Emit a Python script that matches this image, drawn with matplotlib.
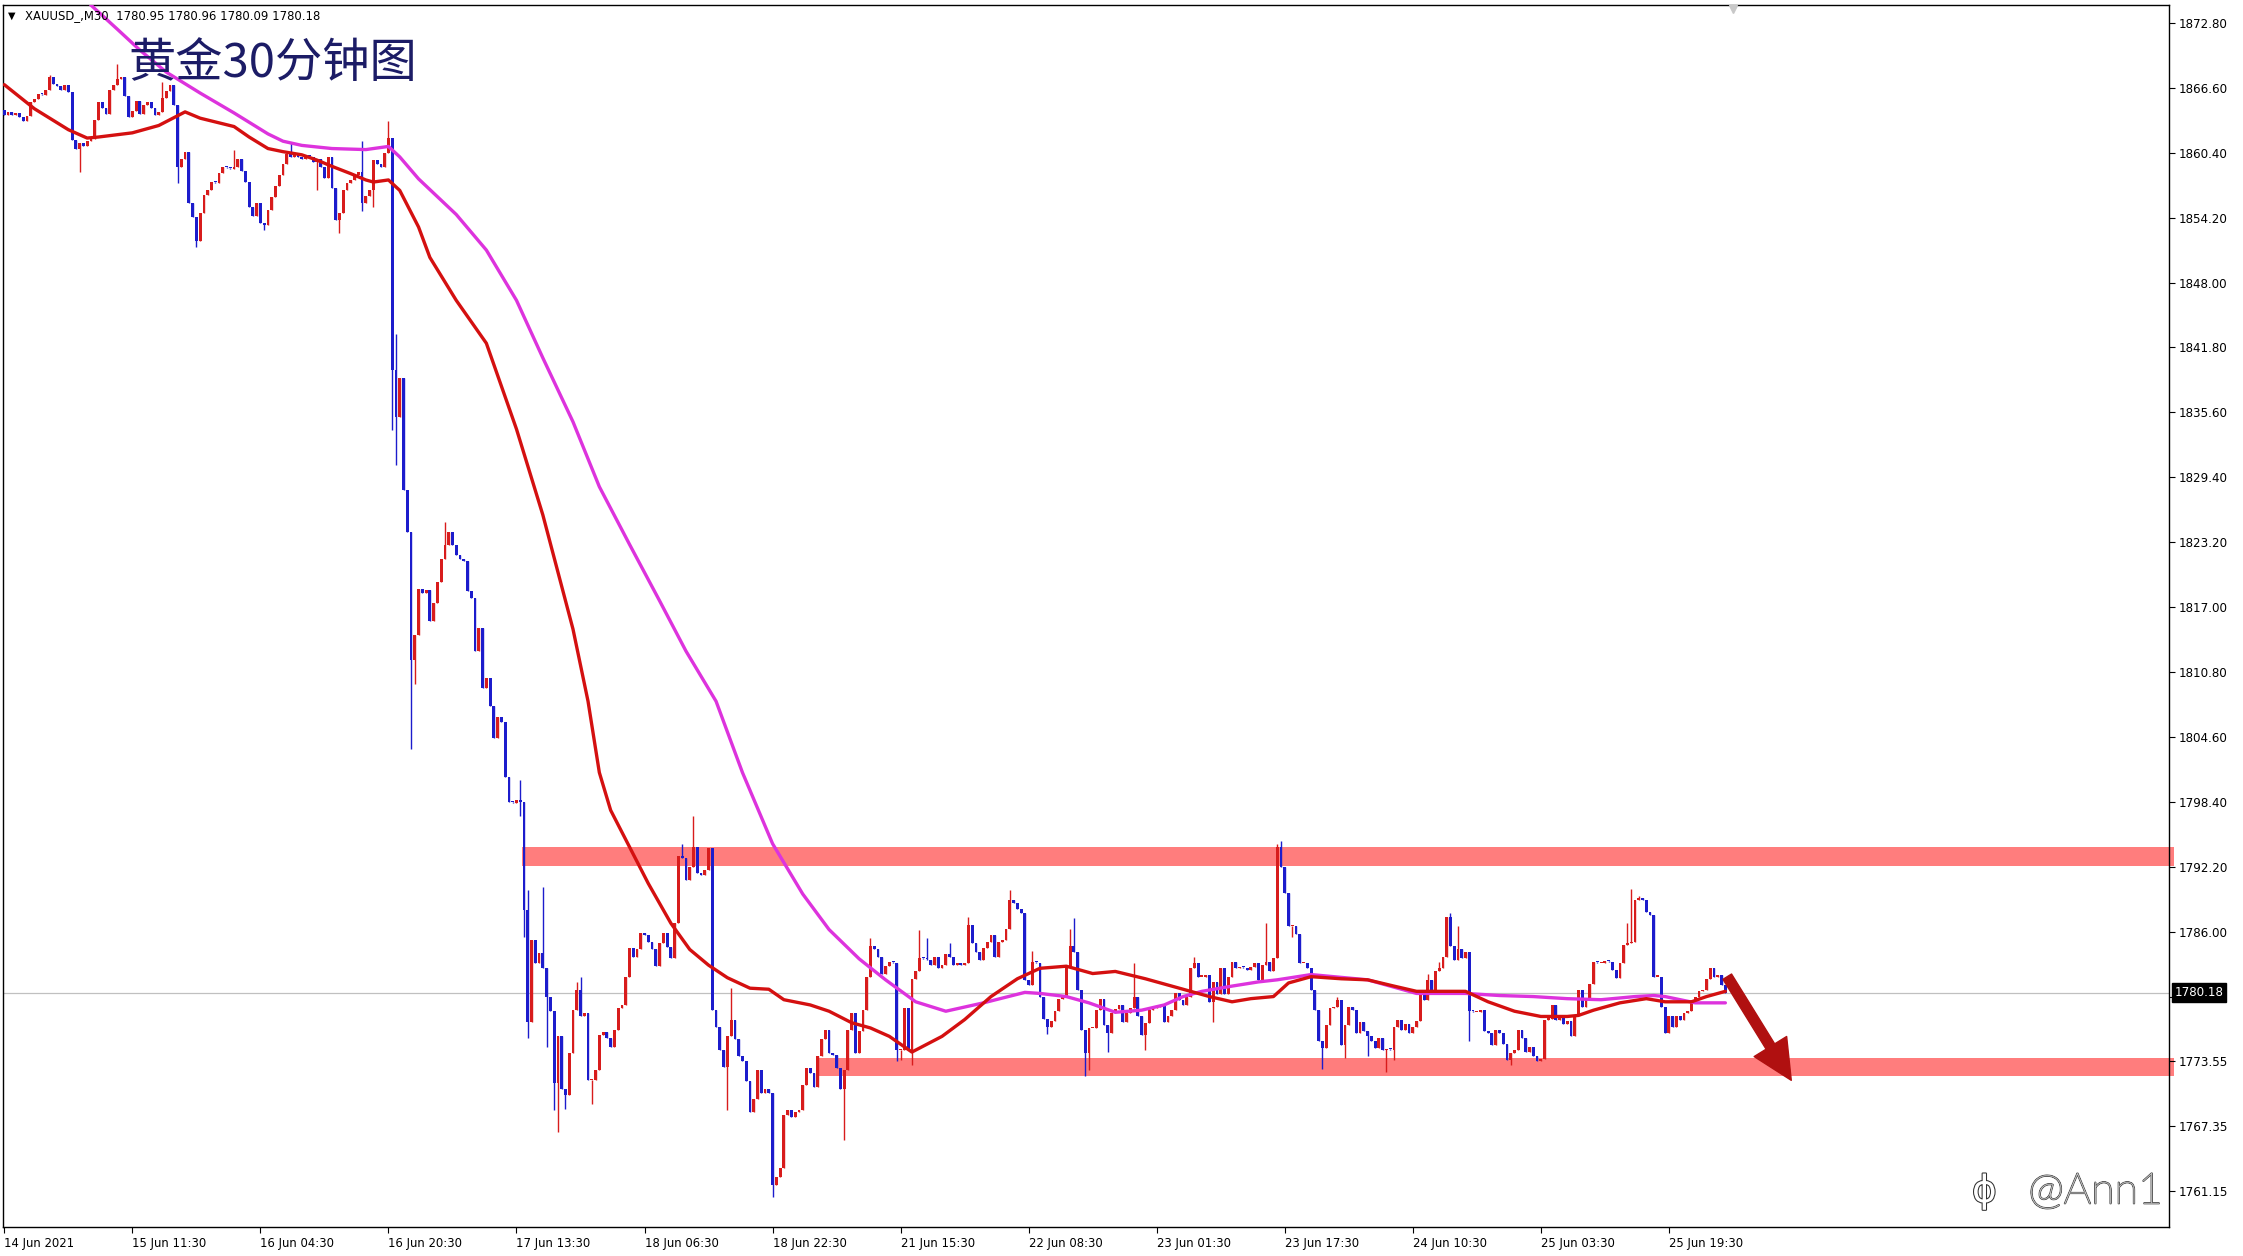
import numpy as np
import matplotlib
matplotlib.use("Agg")
import matplotlib.pyplot as plt
from matplotlib.patches import FancyArrowPatch, Rectangle
import matplotlib.patheffects as pe

# ---------------- data ----------------
close_14_15 = [
    1864.0, 1864.3, 1864.0, 1864.2, 1863.8, 1863.4, 1863.9, 1865.2, 1865.5, 1866.0,
    1865.9, 1866.4, 1867.6, 1867.0, 1866.8, 1866.4, 1866.9, 1866.2, 1861.6, 1860.8,
    1861.3, 1861.0, 1861.5, 1861.7, 1863.5, 1865.2, 1864.7, 1864.1, 1866.4, 1866.9,
    1867.4, 1867.6, 1865.8, 1863.8, 1864.4, 1865.3, 1864.1, 1865.0, 1865.2, 1864.7,
    1864.0, 1864.3, 1865.6, 1866.3, 1866.9, 1865.0, 1859.0, 1859.8, 1860.5, 1855.6,
    1854.3, 1852.0, 1854.6, 1856.4, 1856.8, 1857.6, 1857.5, 1858.5, 1859.0, 1858.9,
    1858.8, 1859.0, 1859.8, 1858.7, 1857.6, 1855.2, 1854.4, 1855.6, 1853.7, 1853.5,
    1854.9, 1856.2, 1857.2, 1858.3, 1859.3, 1860.3, 1860.0, 1860.3, 1860.0, 1859.8,
    1860.1, 1860.0, 1859.5, 1859.8, 1859.0, 1858.0, 1860.0, 1857.0, 1854.0, 1854.6,
    1856.8, 1857.5, 1857.8, 1858.3, 1858.6, 1855.6, 1856.3, 1856.8, 1859.7, 1859.3,
    1859.0, 1860.4, 1861.8,
]
close_16_17 = [
    1839.6, 1835.2, 1838.9, 1828.2, 1824.2, 1811.9, 1814.3, 1818.7, 1818.3, 1818.6,
    1815.7, 1817.4, 1819.4, 1821.6, 1822.9, 1824.2, 1822.9, 1822.0, 1821.6, 1821.4,
    1818.5, 1817.9, 1812.8, 1815.0, 1809.3, 1810.2, 1807.6, 1804.5, 1806.5, 1806.0,
    1800.8, 1798.4, 1798.3, 1798.6, 1798.4,
]
close_17_21 = [
    1788.1, 1777.4, 1785.2, 1783.0, 1784.0, 1782.5, 1779.8, 1778.4, 1771.5, 1776.0,
    1771.0, 1770.4, 1774.4, 1778.5, 1780.4, 1777.9, 1778.2, 1771.8, 1771.8, 1772.8,
    1776.1, 1776.4, 1775.8, 1775.0, 1776.6, 1778.7, 1779.0, 1781.7, 1784.4, 1783.6,
    1784.3, 1785.9, 1785.7, 1785.0, 1784.3, 1782.7, 1784.9, 1785.9, 1784.5, 1783.5,
    1786.8, 1793.2, 1793.0, 1790.9, 1792.2, 1794.1, 1791.6, 1791.4, 1791.9, 1794.0,
    1778.5, 1776.9, 1774.7, 1773.1, 1776.0, 1777.6, 1775.7, 1774.1, 1773.6, 1771.7,
    1768.8, 1770.0, 1772.8, 1770.6, 1771.0, 1770.6, 1761.8, 1762.6, 1763.4, 1768.5,
    1769.0, 1768.3, 1768.8, 1769.0, 1771.4, 1773.0, 1772.5, 1771.2, 1774.1, 1775.7,
    1776.6, 1774.4, 1774.2, 1773.0, 1771.0, 1772.8, 1776.6, 1778.2, 1774.4, 1776.5,
    1778.5, 1781.7, 1784.6, 1784.3, 1783.6, 1782.0, 1782.7, 1783.1,
]
close_21_23 = [
    1783.0, 1774.7, 1774.7, 1778.7, 1774.7, 1781.5, 1782.2, 1783.5, 1783.4, 1783.3,
    1782.8, 1783.6, 1782.5, 1782.8, 1783.9, 1783.6, 1782.8, 1783.0, 1782.8, 1783.0,
    1786.6, 1784.9, 1784.1, 1783.3, 1784.4, 1785.0, 1785.7, 1783.6, 1785.0, 1785.2,
    1786.3, 1789.0, 1788.7, 1788.2, 1787.8, 1781.4, 1780.9, 1783.1, 1783.0, 1779.8,
    1777.7, 1776.9, 1777.5, 1778.4, 1779.6, 1779.8, 1782.7, 1784.6, 1784.1, 1780.4,
    1776.6, 1774.4, 1776.8, 1776.8, 1778.5, 1779.6, 1777.1, 1776.3, 1778.2, 1778.6,
    1779.0, 1777.4, 1778.2, 1778.7, 1779.8, 1777.9, 1776.1, 1777.3, 1778.5, 1778.7,
    1778.8, 1779.0, 1777.4, 1777.9, 1778.5, 1780.1, 1779.5, 1779.0, 1779.8, 1782.5,
    1783.0, 1781.7, 1781.7, 1781.9, 1779.3, 1781.2, 1780.0, 1782.5, 1780.0, 1781.7,
    1783.1, 1782.5, 1782.6, 1782.5, 1782.3, 1782.6, 1783.0, 1781.4, 1782.8, 1783.1,
    1782.2, 1783.5, 1794.1, 1792.2, 1789.7, 1786.5, 1786.5, 1785.8, 1783.0, 1783.0,
]
close_23_25 = [
    1782.5, 1780.4, 1778.5, 1775.6, 1774.9, 1777.1, 1778.7, 1778.8, 1779.5, 1775.2,
    1777.1, 1778.8, 1778.5, 1776.3, 1777.4, 1776.5, 1776.0, 1775.6, 1774.9, 1775.8,
    1774.7, 1774.8, 1774.7, 1776.9, 1777.6, 1776.6, 1777.2, 1776.3, 1776.9, 1777.5,
    1780.4, 1779.5, 1781.4, 1780.4, 1782.2, 1782.5, 1783.6, 1787.4, 1784.6, 1783.3,
    1784.3, 1783.5, 1784.1, 1778.4, 1778.3, 1778.3, 1778.5, 1776.5, 1776.3, 1775.2,
    1776.6, 1776.3, 1775.3, 1773.7, 1774.4, 1774.7, 1776.6, 1775.8, 1774.5, 1775.0,
    1774.1, 1773.6, 1773.8, 1777.6, 1777.7, 1779.0, 1777.6, 1777.9, 1777.2, 1777.5,
    1776.0, 1777.9, 1780.4, 1778.8, 1779.5, 1781.0, 1783.1, 1783.0, 1783.0, 1783.2,
    1783.1, 1782.3, 1781.6, 1783.0, 1784.7, 1784.9, 1785.0, 1789.0, 1789.2, 1789.0,
    1787.9, 1787.6, 1781.7, 1781.7, 1778.8, 1776.3, 1777.9, 1776.9, 1777.9, 1777.6,
    1778.2, 1778.4, 1779.5, 1779.8, 1780.3, 1780.4, 1781.5, 1782.5, 1781.7, 1781.9,
    1780.9, 1780.18,
]
first_open = 1864.5

# notable wick extremes {bar index: price}
wick_high = {12: 1867.8, 30: 1868.9, 42: 1867.2, 61: 1860.7, 76: 1861.3, 95: 1861.5,
             102: 1863.4, 104: 1843.1, 117: 1825.1, 137: 1800.5, 139: 1790.0, 143: 1790.3,
             152: 1781.2, 153: 1781.7, 180: 1794.4, 183: 1797.0, 193: 1780.6, 230: 1785.4,
             243: 1786.2, 245: 1785.4, 251: 1784.9, 256: 1787.4, 267: 1790.0, 273: 1784.2,
             283: 1786.3, 284: 1787.3, 300: 1783.0, 316: 1783.6, 335: 1786.8, 338: 1794.4,
             339: 1794.7, 354: 1779.8, 378: 1782.0, 381: 1783.1, 384: 1787.8, 386: 1786.5,
             431: 1786.8, 432: 1790.1, 434: 1789.4}
wick_low = {20: 1858.6, 46: 1857.5, 51: 1851.4, 69: 1853.0, 83: 1856.8, 89: 1852.7,
            95: 1854.8, 98: 1855.2, 103: 1833.9, 104: 1830.6, 108: 1803.4, 109: 1809.7,
            137: 1797.0, 138: 1785.5, 139: 1775.8, 144: 1775.0, 146: 1769.0, 147: 1766.9,
            149: 1769.1, 156: 1769.5, 192: 1769.0, 204: 1760.7, 223: 1766.1, 237: 1773.6,
            238: 1773.7, 241: 1773.3, 277: 1776.2, 287: 1772.2, 288: 1772.8, 293: 1774.5,
            303: 1774.7, 321: 1777.4, 342: 1785.5, 350: 1772.9, 356: 1773.9, 362: 1774.1,
            367: 1772.6, 369: 1773.7, 389: 1775.6, 400: 1773.3}

# moving averages read at sample bars
ma_red_x = [0, 8, 17, 22, 25, 34, 41, 48, 52, 61, 65, 70, 74, 79, 83, 87, 92, 96, 98, 102,
            105, 110, 113, 120, 128, 136, 143, 151, 155, 158, 161, 166, 171, 177, 182, 187,
            192, 198, 203, 207, 214, 219, 225, 230, 235, 241, 249, 255, 262, 269, 275, 282,
            289, 295, 303, 310, 315, 320, 326, 331, 337, 341, 347, 355, 362, 369, 375, 381,
            388, 394, 401, 408, 415, 418, 422, 429, 436, 441, 448, 452, 457]
ma_red_y = [1866.9, 1864.6, 1862.6, 1861.8, 1861.9, 1862.3, 1863.0, 1864.3, 1863.7, 1862.9,
            1861.9, 1860.8, 1860.5, 1860.2, 1859.7, 1859.1, 1858.4, 1857.8, 1857.6, 1857.8,
            1856.8, 1853.3, 1850.4, 1846.3, 1842.2, 1834.0, 1825.8, 1814.9, 1808.0, 1801.2,
            1797.6, 1794.1, 1790.6, 1786.8, 1784.3, 1782.8, 1781.6, 1780.6, 1780.5, 1779.5,
            1779.0, 1778.4, 1777.3, 1776.8, 1776.0, 1774.5, 1776.0, 1777.6, 1779.8, 1781.5,
            1782.5, 1782.7, 1782.0, 1782.2, 1781.5, 1780.8, 1780.3, 1779.8, 1779.3, 1779.6,
            1779.8, 1781.1, 1781.7, 1781.5, 1781.4, 1780.8, 1780.3, 1780.3, 1780.3, 1779.3,
            1778.4, 1777.9, 1777.9, 1778.0, 1778.5, 1779.2, 1779.6, 1779.3, 1779.3, 1779.8,
            1780.3]
ma_mag_x = [20, 23, 30, 36, 43, 52, 61, 70, 74, 79, 87, 96, 102, 105, 110, 120, 128, 136,
            143, 151, 158, 166, 174, 181, 189, 196, 204, 212, 219, 227, 234, 242, 250, 260,
            271, 275, 282, 288, 295, 302, 308, 313, 318, 326, 333, 338, 347, 362, 375, 388,
            397, 406, 415, 424, 433, 438, 441, 449, 457]
ma_mag_y = [1876.5, 1874.5, 1872.2, 1870.2, 1868.1, 1866.1, 1864.2, 1862.2, 1861.5, 1861.1,
            1860.8, 1860.7, 1861.0, 1860.0, 1857.9, 1854.5, 1851.1, 1846.3, 1840.8, 1834.7,
            1828.5, 1823.0, 1817.6, 1812.8, 1808.0, 1801.2, 1794.4, 1789.6, 1786.2, 1783.4,
            1781.4, 1779.3, 1778.4, 1779.2, 1780.2, 1780.1, 1779.8, 1779.2, 1778.3, 1778.5,
            1779.0, 1779.8, 1780.3, 1780.8, 1781.2, 1781.4, 1781.9, 1781.4, 1780.1, 1780.1,
            1779.9, 1779.8, 1779.6, 1779.5, 1779.8, 1779.9, 1779.8, 1779.2, 1779.2]

# horizontal zones (start bar, low, high)
resist_zone = (137.4, 1792.3, 1794.1)
support_zone = (215.8, 1772.2, 1773.9)
arrow_from = (457.5, 1781.7)
arrow_to = (474.5, 1771.8)
last_price = 1780.18

y_ticks = [1872.8 - 6.2 * k for k in range(19)]
y_labels = ["1872.80", "1866.60", "1860.40", "1854.20", "1848.00", "1841.80", "1835.60",
            "1829.40", "1823.20", "1817.00", "1810.80", "1804.60", "1798.40", "1792.20",
            "1786.00", "", "1773.55", "1767.35", "1761.15"]
x_tick_bars = [34 * k for k in range(14)]
x_labels = ["14 Jun 2021", "15 Jun 11:30", "16 Jun 04:30", "16 Jun 20:30", "17 Jun 13:30",
            "18 Jun 06:30", "18 Jun 22:30", "21 Jun 15:30", "22 Jun 08:30", "23 Jun 01:30",
            "23 Jun 17:30", "24 Jun 10:30", "25 Jun 03:30", "25 Jun 19:30"]

# ---------------- build ----------------
close = np.array(close_14_15 + close_16_17 + close_17_21 + close_21_23 + close_23_25)
n = len(close)
opens = np.r_[first_open, close[:-1]]
idx = np.arange(n)
hi = np.maximum(opens, close)
lo = np.minimum(opens, close)
for k, v in wick_high.items():
    if k < n:
        hi[k] = max(hi[k], v)
for k, v in wick_low.items():
    if k < n:
        lo[k] = min(lo[k], v)

RED = "#d81c1c"
BLUE = "#1c1ccc"

W, H = 2243, 1256
fig = plt.figure(figsize=(W / 100, H / 100), dpi=100)
fig.patch.set_facecolor("white")
L, R, T, B = 3, 2169, 5, 1227
ax = fig.add_axes([L / W, 1 - B / H, (R - L) / W, (B - T) / H])
ax.set_xlim(-0.35, 574.8)
ax.set_ylim(1757.79, 1874.51)

# zones
for (x0, y0, y1) in (resist_zone, support_zone):
    ax.add_patch(Rectangle((x0, y0), 576.2 - x0, y1 - y0, facecolor="#ff7d7d",
                           edgecolor="none", zorder=1, clip_on=False))

# last price line
ax.axhline(last_price, color="#c0c0c0", lw=0.9, zorder=0.5)

# candles
up = close >= opens
cols = np.where(up, RED, BLUE)
ax.vlines(idx, lo, hi, colors=cols, lw=1.0, zorder=2)
body_h = np.where(np.abs(close - opens) < 0.12, 0.12, close - opens)
ax.bar(idx, body_h, bottom=opens, width=0.75, color=cols, edgecolor="none", zorder=3)

# moving averages
ax.plot(ma_mag_x, ma_mag_y, color="#dd33dd", lw=2.4, zorder=4, solid_capstyle="round")
ax.plot(ma_red_x, ma_red_y, color="#d41010", lw=2.4, zorder=5, solid_capstyle="round")

# arrow
arr = FancyArrowPatch(arrow_from, arrow_to,
                      arrowstyle="simple,head_length=1.3,head_width=1.25,tail_width=0.33",
                      mutation_scale=22, color="#b01010", zorder=6, shrinkA=0, shrinkB=0)
ax.add_patch(arr)

# axes style
for s in ax.spines.values():
    s.set_color("black")
    s.set_linewidth(1.0)
ax.yaxis.tick_right()
ax.set_yticks(y_ticks)
ax.set_yticklabels(y_labels)
ax.tick_params(axis="y", direction="out", length=4, width=0.8, pad=3,
               labelsize=8.6, colors="black")
ax.set_xticks(x_tick_bars)
ax.set_xticklabels(x_labels, ha="left", fontsize=8.4,
                   family=["Liberation Sans Narrow", "DejaVu Sans"])
ax.tick_params(axis="x", direction="out", length=4, width=0.8, pad=3)
ax.grid(False)

# last price box
ax.annotate("1780.18", xy=(1.0, last_price), xycoords=("axes fraction", "data"),
            xytext=(4, 0), textcoords="offset points", va="center", ha="left",
            fontsize=8.6, color="white", zorder=10, annotation_clip=False,
            bbox=dict(boxstyle="square,pad=0.22", fc="black", ec="black"))

# header text
fig.text(8 / W, 1 - 16 / H, "\u25bc", fontsize=7, va="center", ha="left", color="black")
fig.text(25 / W, 1 - 16 / H, "XAUUSD_,M30  1780.95 1780.96 1780.09 1780.18",
         fontsize=8.4, va="center", ha="left", color="black")
fig.text(128 / W, 1 - 64 / H, "黄金30分钟图", fontsize=34, va="center", ha="left",
         color="#1c1c66", family=["Noto Sans CJK SC", "DejaVu Sans"], weight="light")

# watermark (kept inside the plot so it does not sit on the axis labels)
wm = fig.text(2163 / W, 1 - 1192 / H, "@Ann1", fontsize=31, va="center", ha="right",
              color="white", family=["Lato", "DejaVu Sans"], weight="light", zorder=20)
wm.set_path_effects([pe.Stroke(linewidth=1.3, foreground="#606060"), pe.Normal()])
logo = fig.text(1972 / W, 1 - 1192 / H, "\u03d5", fontsize=27, va="center", ha="left",
                color="white", zorder=20)
logo.set_path_effects([pe.Stroke(linewidth=1.5, foreground="#303030"), pe.Normal()])

# small shift marker at top
ax.plot([459], [1874.1], marker="v", color="#c8c8c8", ms=6, clip_on=False, zorder=7)

fig.savefig("out.png", dpi=100, facecolor="white")
